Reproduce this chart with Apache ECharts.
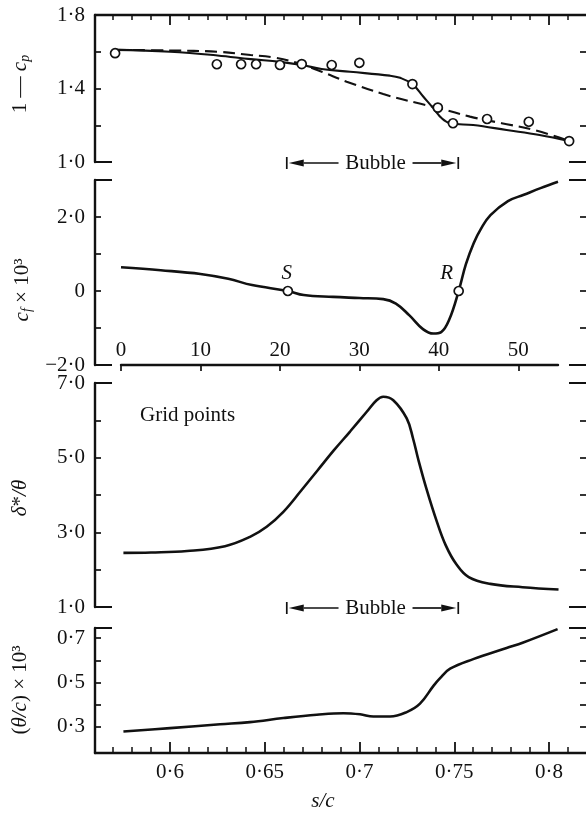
<!DOCTYPE html>
<html>
<head>
<meta charset="utf-8">
<script src="https://cdn.jsdelivr.net/npm/echarts@6/dist/echarts.min.js"></script>
<style>
html, body { margin: 0; padding: 0; background: #fff; }
#chart { width: 586px; height: 816px; }
</style>
</head>
<body>
<div id="chart"></div>
<script>
// panel 1: 1 - cp against s/c
var cpCircleS = [0.571, 0.6247, 0.6375, 0.6454, 0.658, 0.6695, 0.6853, 0.6999, 0.7279, 0.7413, 0.7493, 0.7673, 0.7893, 0.8106]
var cpCircleV = [1.592, 1.532, 1.532, 1.532, 1.528, 1.533, 1.528, 1.540, 1.424, 1.296, 1.211, 1.234, 1.219, 1.114]
var cpSolidS = [0.571, 0.60, 0.625, 0.6425, 0.658, 0.6695, 0.68, 0.695, 0.716, 0.7214, 0.7279, 0.7337, 0.739, 0.7434, 0.7478, 0.76, 0.7776, 0.795, 0.8106]
var cpSolidV = [1.61, 1.60, 1.58, 1.56, 1.545, 1.528, 1.506, 1.491, 1.47, 1.458, 1.424, 1.355, 1.292, 1.238, 1.211, 1.201, 1.174, 1.147, 1.114]
var cpDashS = [0.571, 0.60, 0.625, 0.6425, 0.655, 0.667, 0.68, 0.6932, 0.7125, 0.73, 0.7425, 0.7583, 0.775, 0.792, 0.8106]
var cpDashV = [1.61, 1.607, 1.60, 1.582, 1.568, 1.54, 1.491, 1.437, 1.37, 1.322, 1.292, 1.247, 1.211, 1.175, 1.114]

// panel 2: cf x 10^3 against grid point number
var cfIndex = [0, 5, 10, 13.5, 16.5, 21, 23, 26.7, 30, 33, 34.6, 36.3, 38, 39.3, 40.3, 41.3, 42.5, 43.4, 44.4, 45.3, 46.5, 48.7, 50.7, 52.8, 55]
var cfValue = [0.64, 0.56, 0.46, 0.33, 0.16, 0, -0.11, -0.16, -0.19, -0.22, -0.34, -0.66, -1.03, -1.15, -1.11, -0.78, 0, 0.72, 1.3, 1.68, 2.05, 2.43, 2.6, 2.78, 2.95]
var sepIndex = [21, 42.5]
var sepName = ['S', 'R']

// panel 3: delta*/theta
var dtS = [0.5754, 0.59, 0.609, 0.629, 0.6422, 0.651, 0.6598, 0.6689, 0.6777, 0.6865, 0.695, 0.7038, 0.709, 0.7125, 0.7178, 0.7249, 0.7283, 0.731, 0.7354, 0.7407, 0.7455, 0.751, 0.7576, 0.769, 0.786, 0.805]
var dtV = [2.45, 2.46, 2.5, 2.63, 2.88, 3.15, 3.55, 4.1, 4.65, 5.2, 5.7, 6.23, 6.54, 6.633, 6.54, 6.05, 5.5, 4.95, 4.15, 3.3, 2.65, 2.15, 1.8, 1.62, 1.53, 1.47]

// panel 4: (theta/c) x 10^3
var thS = [0.5754, 0.60, 0.6264, 0.6422, 0.6598, 0.6774, 0.6915, 0.7003, 0.7073, 0.7161, 0.7249, 0.7319, 0.739, 0.7425, 0.7478, 0.76, 0.7776, 0.7864, 0.8045]
var thV = [0.28, 0.295, 0.312, 0.322, 0.340, 0.355, 0.362, 0.357, 0.347, 0.347, 0.367, 0.405, 0.485, 0.52, 0.562, 0.605, 0.655, 0.68, 0.74]

// ticks
var sMajor = [0.6, 0.65, 0.7, 0.75, 0.8]
var sMinor = [0.57, 0.58, 0.59, 0.61, 0.62, 0.63, 0.64, 0.66, 0.67, 0.68, 0.69, 0.71, 0.72, 0.73, 0.74, 0.76, 0.77, 0.78, 0.79, 0.81]
var gridTicks = [0, 10, 20, 30, 40, 50]
var bubbleFrom = 0.6616
var bubbleTo = 0.7521

var ink = '#111'
var serif = '"Liberation Serif", "DejaVu Serif", serif'
var sMin = 0.5604
var sMax = 0.8195

function zip(xs, ys) {
  return xs.map(function (x, i) { return [x, ys[i]] })
}

function fmt1(v) {
  if (v === 0) return '0'
  var s = Math.abs(v).toFixed(1).replace('.', '·')
  return v < 0 ? '−' + s : s
}

function fmt2(v) {
  return String(Number(v.toFixed(2))).replace('.', '·')
}

var labelFont = { color: ink, fontFamily: serif, fontSize: 21 }

/**
 * left and right axes of one panel: inner ticks, long end ticks, labels
 */
function yAxes(gi, min, max, inner, ends, labels) {
  function ax(extra) {
    return Object.assign({
      gridIndex: gi, type: 'value', min: min, max: max,
      splitLine: { show: false },
      axisLine: { show: false, onZero: false },
      axisLabel: { show: false }
    }, extra)
  }
  var tick = function (len, vals, w) {
    return { show: true, inside: true, length: len, customValues: vals, lineStyle: { color: ink, width: w } }
  }
  return [
    ax({
      position: 'left',
      axisLine: { show: true, onZero: false, lineStyle: { color: ink, width: 2.4 } },
      axisTick: tick(6, inner, 1.7),
      axisLabel: Object.assign({ show: true, customValues: labels, formatter: fmt1, margin: 10 }, labelFont)
    }),
    ax({ position: 'left', axisTick: tick(17, ends, 2) }),
    ax({ position: 'right', axisTick: tick(6, inner, 1.7) }),
    ax({ position: 'right', axisTick: tick(17, ends, 2) })
  ]
}

function sAxis(gi, pos, len, vals, w, line, labels) {
  return {
    gridIndex: gi, type: 'value', min: sMin, max: sMax, position: pos,
    splitLine: { show: false },
    axisLine: { show: line, onZero: false, lineStyle: { color: ink, width: 2.4 } },
    axisTick: { show: len > 0, inside: true, length: len, customValues: vals, lineStyle: { color: ink, width: w } },
    axisLabel: labels ? Object.assign({ show: true, customValues: labels, formatter: fmt2, margin: 9 }, labelFont) : { show: false }
  }
}

function curve(xi, yi, data, width, dash) {
  return {
    type: 'line', xAxisIndex: xi, yAxisIndex: yi, data: data,
    showSymbol: false, smooth: 0.4, clip: false, silent: true,
    lineStyle: { color: ink, width: width, type: dash || 'solid', opacity: 1 }
  }
}

var circleStyle = { color: '#fff', borderColor: ink, borderWidth: 1.7, opacity: 1 }

var chart = echarts.init(document.getElementById('chart'))

var option = {
  animation: false,
  backgroundColor: '#fff',
  grid: [
    { left: 95, right: 0, top: 15, height: 147, outerBoundsMode: 'none' },
    { left: 95, right: 0, top: 180, height: 185, outerBoundsMode: 'none' },
    { left: 95, right: 0, top: 383, height: 224, outerBoundsMode: 'none' },
    { left: 95, right: 0, top: 628, height: 125, outerBoundsMode: 'none' },
    { left: 121, right: 28, top: 180, height: 185, outerBoundsMode: 'none' }
  ],
  xAxis: [
    sAxis(0, 'top', 10, sMajor, 1.8, true),
    sAxis(0, 'top', 5, sMinor, 1.5, false),
    sAxis(1, 'bottom', 0, [], 1, false),
    sAxis(2, 'bottom', 0, [], 1, false),
    sAxis(3, 'bottom', 11, sMajor, 1.8, true, sMajor),
    sAxis(3, 'bottom', 6, sMinor, 1.5, false),
    {
      gridIndex: 4, type: 'value', min: 0, max: 55, position: 'bottom',
      splitLine: { show: false },
      axisLine: { show: true, onZero: false, lineStyle: { color: ink, width: 2.4 } },
      axisTick: { show: true, inside: false, length: 6, customValues: gridTicks, lineStyle: { color: ink, width: 1.7 } },
      axisLabel: Object.assign({ show: true, inside: true, customValues: gridTicks, margin: 4 }, labelFont)
    }
  ],
  yAxis: [].concat(
    yAxes(0, 1.0, 1.8, [1.2, 1.4, 1.6], [1.0], [1.0, 1.4, 1.8]),
    yAxes(1, -2, 3, [-1, 0, 1, 2], [-2, 3], [-2, 0, 2]),
    yAxes(2, 1, 7, [2, 3, 4, 5, 6], [1, 7], [1, 3, 5, 7]),
    yAxes(3, 0.183, 0.745, [0.3, 0.4, 0.5, 0.6, 0.7], [0.745], [0.3, 0.5, 0.7]),
    [{ gridIndex: 4, type: 'value', min: -2, max: 3, show: false }]
  ),
  series: [
    curve(0, 0, zip(cpSolidS, cpSolidV), 2.1),
    curve(0, 0, zip(cpDashS, cpDashV), 2.1, [12, 6]),
    {
      type: 'scatter', xAxisIndex: 0, yAxisIndex: 0, data: zip(cpCircleS, cpCircleV), z: 5,
      symbol: 'circle', symbolSize: 9, silent: true,
      itemStyle: circleStyle
    },
    curve(6, 16, zip(cfIndex, cfValue), 2.6),
    {
      type: 'scatter', xAxisIndex: 6, yAxisIndex: 16, z: 5, silent: true,
      data: sepIndex.map(function (x, i) {
        return { value: [x, 0], label: { formatter: sepName[i], offset: [i === 0 ? -1 : -12, 0] } }
      }),
      symbol: 'circle', symbolSize: 9,
      itemStyle: circleStyle,
      label: { show: true, position: 'top', distance: 2, color: ink, opacity: 1, fontFamily: serif, fontSize: 21, fontStyle: 'italic' }
    },
    curve(3, 8, zip(dtS, dtV), 2.6),
    curve(4, 12, zip(thS, thV), 2.6)
  ]
}

chart.setOption(option)

function px(xi, yi, v) {
  return chart.convertToPixel({ xAxisIndex: xi, yAxisIndex: yi }, v)
}

// |<-- Bubble -->| marker along the bottom of a panel
function bubble(xi, yi) {
  var a = px(xi, yi, [bubbleFrom, 1.0])
  var b = px(xi, yi, [bubbleTo, 1.0])
  var y = a[1] + 1
  var xl = a[0]
  var xr = b[0]
  var xm = (xl + xr) / 2 + 3
  var ls = { stroke: ink, lineWidth: 1.7 }
  return [
    { type: 'line', shape: { x1: xl, y1: y - 6, x2: xl, y2: y + 6 }, style: ls },
    { type: 'polygon', shape: { points: [[xl + 2, y], [xl + 17, y - 3.5], [xl + 17, y + 3.5]] }, style: { fill: ink } },
    { type: 'line', shape: { x1: xl + 17, y1: y, x2: xm - 37, y2: y }, style: ls },
    { type: 'text', x: xm, y: y, style: { text: 'Bubble', font: '21px ' + serif, fill: ink, align: 'center', verticalAlign: 'middle' } },
    { type: 'line', shape: { x1: xm + 37, y1: y, x2: xr - 17, y2: y }, style: ls },
    { type: 'polygon', shape: { points: [[xr - 2, y], [xr - 17, y - 3.5], [xr - 17, y + 3.5]] }, style: { fill: ink } },
    { type: 'line', shape: { x1: xr, y1: y - 6, x2: xr, y2: y + 6 }, style: ls }
  ]
}

var rich = {
  n: { font: '21px ' + serif, fill: ink },
  i: { font: 'italic 21px ' + serif, fill: ink },
  s: { font: 'italic 14px ' + serif, fill: ink, padding: [10, 0, 0, 0] }
}

function title(x, y, text) {
  return {
    type: 'text', x: x, y: y, rotation: Math.PI / 2,
    style: { text: text, rich: rich, align: 'center', verticalAlign: 'middle', fill: ink }
  }
}

var graphics = [].concat(
  bubble(0, 0),
  bubble(3, 8),
  [
    title(20, 84, '{n|1 — }{i|c}{s|p}'),
    title(22, 290, '{i|c}{s|f}{n| × 10³}'),
    title(20, 498, '{i|δ}{n|*}{i|/θ}'),
    title(20, 690, '{n|(}{i|θ/c}{n|) × 10³}'),
    { type: 'text', x: 323, y: 801, style: { text: 's/c', font: 'italic 21px ' + serif, fill: ink, align: 'center', verticalAlign: 'middle' } },
    { type: 'text', x: 140, y: 415, style: { text: 'Grid points', font: '21px ' + serif, fill: ink, align: 'left', verticalAlign: 'middle' } }
  ]
)

chart.setOption({ graphic: graphics })
</script>
</body>
</html>
